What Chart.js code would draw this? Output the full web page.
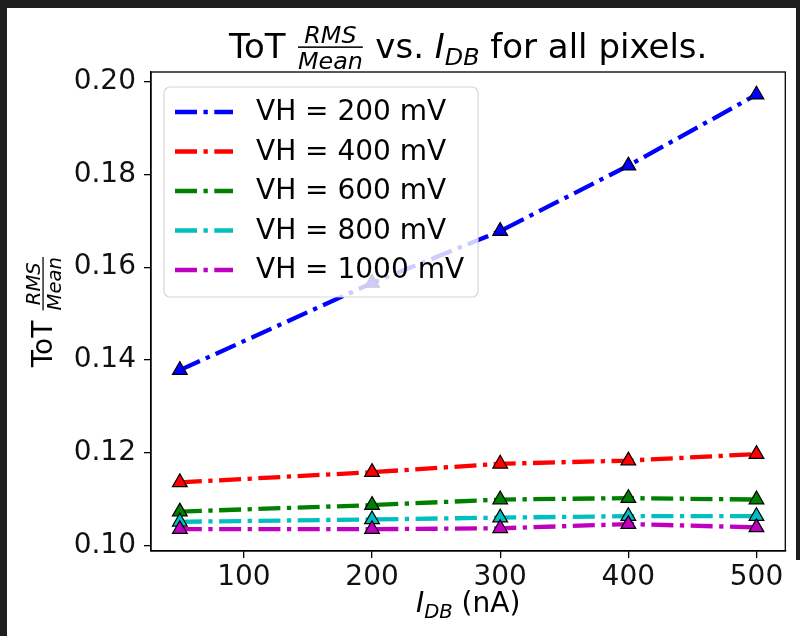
<!DOCTYPE html>
<html>
<head>
<meta charset="utf-8">
<script src="https://cdn.jsdelivr.net/npm/chart.js@4/dist/chart.umd.min.js"></script>
<style>
  html, body { margin: 0; padding: 0; background: #1f1f1f; width: 800px; height: 636px; overflow: hidden; }
  #wrap { position: absolute; left: 7px; top: 8px; width: 793px; height: 628px; background: #fff; }
  #edge { position: absolute; left: 796px; top: 0; width: 4px; height: 560px; background: #1f1f1f; }
  canvas { display: block; }
</style>
</head>
<body>
<div id="wrap"><canvas id="chart" width="788" height="628"></canvas></div>
<div id="edge"></div>
<script>
// ------------------------------------------------------------
// Datos: ToT RMS/Mean vs. I_DB
// ------------------------------------------------------------
const I_DB    = [50, 200, 300, 400, 500];               // nA
const VH_200  = [0.1378, 0.1566, 0.1678, 0.1819, 0.1972];
const VH_400  = [0.1136, 0.1158, 0.1176, 0.1183, 0.1197];
const VH_600  = [0.1073, 0.1087, 0.1099, 0.1102, 0.1099];
const VH_800  = [0.1051, 0.1056, 0.1060, 0.1063, 0.1063];
const VH_1000 = [0.1035, 0.1035, 0.1037, 0.1046, 0.1039];

const SERIES_LABELS = ['VH = 200 mV', 'VH = 400 mV', 'VH = 600 mV', 'VH = 800 mV', 'VH = 1000 mV'];
const SERIES_VALUES = [VH_200, VH_400, VH_600, VH_800, VH_1000];
const COLORS        = ['#0000ff', '#ff0000', '#008000', '#00bfbf', '#bf00bf'];

const X_TICKS = [100, 200, 300, 400, 500];
const Y_TICKS = [0.10, 0.12, 0.14, 0.16, 0.18, 0.20];

const FONT  = '"DejaVu Sans", "Liberation Sans", sans-serif';
const LW    = 4.3;
const DASH  = [22, 6.5, 4.3, 6.5]; // dash-dot de matplotlib

// ------------------------------------------------------------
// Texto con notación matemática sencilla (fracción / subíndice)
// ------------------------------------------------------------
function drawMath(ctx, parts, F, x, y) {
  const items = parts.map(p => {
    if (p.frac) {
      ctx.font = `italic ${0.7 * F}px ${FONT}`;
      const w = Math.max(ctx.measureText(p.frac[0]).width, ctx.measureText(p.frac[1]).width) + 0.1 * F;
      return { ...p, w };
    }
    const f = p.sub ? 0.7 * F : F;
    ctx.font = `${p.it ? 'italic ' : ''}${f}px ${FONT}`;
    return { ...p, f, w: ctx.measureText(p.t).width };
  });
  const total = items.reduce((s, it) => s + it.w, 0);
  let cx = x - total / 2;
  ctx.fillStyle = '#000';
  ctx.textBaseline = 'alphabetic';
  items.forEach(it => {
    if (it.frac) {
      const f = 0.7 * F, bar = y - 0.32 * F, mid = cx + it.w / 2;
      ctx.font = `italic ${f}px ${FONT}`;
      ctx.textAlign = 'center';
      ctx.fillText(it.frac[0], mid, bar - 0.12 * F);
      ctx.fillText(it.frac[1], mid, bar + 0.12 * F + 0.73 * f);
      ctx.fillRect(cx + 0.05 * F, bar - 0.022 * F, it.w - 0.1 * F, 0.045 * F);
    } else {
      ctx.font = `${it.it ? 'italic ' : ''}${it.f}px ${FONT}`;
      ctx.textAlign = 'left';
      ctx.fillText(it.t, cx, y + (it.sub ? 0.2 * F : 0));
    }
    cx += it.w;
  });
}

// ------------------------------------------------------------
// Plugins: marco, leyenda semitransparente, título y etiquetas
// ------------------------------------------------------------
const frame = {
  id: 'frame',
  afterDatasetsDraw(chart) {
    const { ctx, chartArea: a } = chart;
    ctx.save();
    ctx.strokeStyle = '#000';
    ctx.lineWidth = 1.3;
    ctx.strokeRect(a.left, a.top, a.right - a.left, a.bottom - a.top);
    ctx.restore();
  }
};

const legendInside = {
  id: 'legendInside',
  afterDatasetsDraw(chart) {
    const { ctx, chartArea: a } = chart;
    const x0 = a.left + 13, y0 = a.top + 15;
    ctx.save();
    ctx.font = `28px ${FONT}`;
    const textW = Math.max(...SERIES_LABELS.map(s => ctx.measureText(s).width));
    const w = 92 + textW + 14, h = 210, r = 6;
    ctx.beginPath();
    ctx.moveTo(x0 + r, y0);
    ctx.arcTo(x0 + w, y0, x0 + w, y0 + h, r);
    ctx.arcTo(x0 + w, y0 + h, x0, y0 + h, r);
    ctx.arcTo(x0, y0 + h, x0, y0, r);
    ctx.arcTo(x0, y0, x0 + w, y0, r);
    ctx.closePath();
    ctx.fillStyle = 'rgba(255,255,255,0.8)';
    ctx.fill();
    ctx.strokeStyle = 'rgba(204,204,204,0.8)';
    ctx.lineWidth = 1.2;
    ctx.stroke();

    SERIES_LABELS.forEach((label, i) => {
      const y = y0 + 25 + i * 39.5;
      ctx.beginPath();
      ctx.setLineDash(DASH);
      ctx.lineWidth = LW;
      ctx.strokeStyle = COLORS[i];
      ctx.moveTo(x0 + 11, y);
      ctx.lineTo(x0 + 69, y);
      ctx.stroke();
      ctx.setLineDash([]);
      ctx.fillStyle = '#000';
      ctx.textAlign = 'left';
      ctx.textBaseline = 'middle';
      ctx.font = `28px ${FONT}`;
      ctx.fillText(label, x0 + 92, y + 1);
    });
    ctx.restore();
  }
};

const labels = {
  id: 'labels',
  afterDraw(chart) {
    const { ctx, chartArea: a } = chart;
    const midX = (a.left + a.right) / 2;
    const midY = (a.top + a.bottom) / 2;
    ctx.save();
    // título
    drawMath(ctx, [
      { t: 'ToT ' },
      { frac: ['RMS', 'Mean'] },
      { t: ' vs. ' },
      { t: 'I', it: true },
      { t: 'DB', it: true, sub: true },
      { t: ' for all pixels.' }
    ], 34, midX, 50);
    // eje x
    drawMath(ctx, [
      { t: 'I', it: true },
      { t: 'DB', it: true, sub: true },
      { t: ' (nA)' }
    ], 28, midX, 604);
    // eje y (rotado)
    ctx.translate(45, midY);
    ctx.rotate(-Math.PI / 2);
    drawMath(ctx, [
      { t: 'ToT ' },
      { frac: ['RMS', 'Mean'] }
    ], 28, 0, 0);
    ctx.restore();
  }
};

// ------------------------------------------------------------
// Gráfica
// ------------------------------------------------------------
const datasets = SERIES_LABELS.map((label, i) => ({
  label,
  data: I_DB.map((x, j) => ({ x, y: SERIES_VALUES[i][j] })),
  borderColor: COLORS[i],
  backgroundColor: COLORS[i],
  borderWidth: LW,
  borderDash: DASH,
  pointStyle: 'triangle',
  pointRadius: 8.5,
  pointBorderWidth: 1.2,
  pointBorderColor: '#000',
  pointBackgroundColor: COLORS[i],
  fill: false,
  tension: 0,
  order: SERIES_LABELS.length - 1 - i
}));

const tickFont = { family: FONT, size: 28 };

new Chart(document.getElementById('chart'), {
  type: 'line',
  data: { datasets },
  plugins: [frame, legendInside, labels],
  options: {
    responsive: false,
    animation: false,
    events: [],
    layout: { padding: { left: 0, top: 64, right: 4, bottom: 0 } },
    plugins: {
      legend: { display: false },
      title: { display: false },
      tooltip: { enabled: false }
    },
    scales: {
      x: {
        type: 'linear',
        min: 27.5,
        max: 522.5,
        afterBuildTicks: s => { s.ticks = X_TICKS.map(v => ({ value: v })); },
        afterFit: s => { s.height = 85; },
        ticks: { font: tickFont, color: '#111', padding: 3, maxRotation: 0, callback: v => String(v) },
        grid: { drawOnChartArea: false, drawTicks: true, tickLength: 7, color: '#000', lineWidth: 1.3 },
        border: { display: true, color: '#000', width: 1.3 }
      },
      y: {
        type: 'linear',
        min: 0.0988,
        max: 0.2021,
        afterBuildTicks: s => { s.ticks = Y_TICKS.map(v => ({ value: v })); },
        afterFit: s => { s.width = 144; },
        ticks: { font: tickFont, color: '#111', padding: 8, callback: v => v.toFixed(2) },
        grid: { drawOnChartArea: false, drawTicks: true, tickLength: 7, color: '#000', lineWidth: 1.3 },
        border: { display: true, color: '#000', width: 1.3 }
      }
    }
  }
});
</script>
</body>
</html>
